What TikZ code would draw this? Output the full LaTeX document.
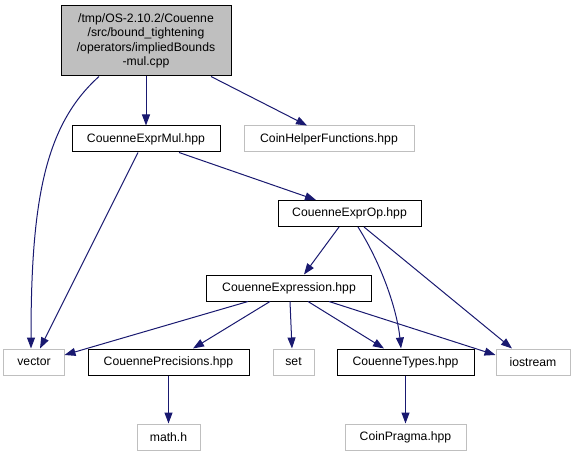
\documentclass[tikz,border=0pt]{standalone}
\usepackage{fontspec}
\setmainfont{Liberation Sans}
\usetikzlibrary{arrows.meta}
\definecolor{edgeblue}{HTML}{191970}
\definecolor{grayfill}{HTML}{BFBFBF}
\definecolor{grayline}{HTML}{BFBFBF}
\tikzset{
  nbox/.style={draw=black, line width=1bp, fill=white, minimum height=26bp, inner sep=0pt, font=\fontsize{12.2bp}{14bp}\selectfont},
  gbox/.style={nbox, draw=grayline},
  mainbox/.style={nbox, fill=grayfill, minimum height=70bp, align=center, font=\fontsize{12.2bp}{14.5bp}\selectfont},
  edge/.style={draw=edgeblue, line width=1bp, -{Triangle[length=11bp,width=8bp]}, fill=none},
}
\begin{document}
\begin{tikzpicture}[x=1bp,y=-1bp]
\useasboundingbox (0,0) rectangle (573,456);
\node[mainbox, minimum width=170bp] (main) at (146,41) {/tmp/OS-2.10.2/Couenne\\/src/bound\_tightening\\/operators/impliedBounds\\-mul.cpp};
\node[nbox, minimum width=148bp] (mul) at (146,139) {CouenneExprMul.hpp};
\node[gbox, minimum width=170bp] (helper) at (329,139) {CoinHelperFunctions.hpp};
\node[nbox, minimum width=143bp] (op) at (349.5,213.5) {CouenneExprOp.hpp};
\node[nbox, minimum width=165bp] (expr) at (289,288) {CouenneExpression.hpp};
\node[gbox, minimum width=60bp] (vector) at (34,362) {vector};
\node[nbox, minimum width=161bp] (prec) at (168.5,362) {CouennePrecisions.hpp};
\node[gbox, minimum width=41bp] (set) at (293.5,362) {set};
\node[nbox, minimum width=137bp] (types) at (405.5,362) {CouenneTypes.hpp};
\node[gbox, minimum width=74bp] (iostream) at (533,362) {iostream};
\node[gbox, minimum width=63bp] (math) at (168.5,437) {math.h};
\node[gbox, minimum width=121bp] (pragma) at (405.5,437) {CoinPragma.hpp};

\draw[edge] ([xshift=-47bp]main.south) .. controls (45,125) and (31,200) .. ([xshift=-3bp]vector.north);
\draw[edge] (main.south) -- (mul.north);
\draw[edge] ([xshift=65bp]main.south) -- ([xshift=-22bp]helper.north);
\draw[edge] ([xshift=-8bp]mul.south) -- ([xshift=6bp]vector.north);
\draw[edge] ([xshift=33bp]mul.south) -- ([xshift=-33.5bp]op.north);
\draw[edge] ([xshift=-10.5bp]op.south) -- ([xshift=15bp]expr.north);
\draw[edge] ([xshift=8.5bp]op.south) .. controls (382,265) and (397,310) .. ([xshift=-4.5bp]types.north);
\draw[edge] ([xshift=14.5bp]op.south) -- ([xshift=-21bp]iostream.north);
\draw[edge] ([xshift=-41bp]expr.south) -- ([yshift=7bp]vector.east);
\draw[edge] ([xshift=-19bp]expr.south) -- ([xshift=24.5bp]prec.north);
\draw[edge] ([xshift=1bp]expr.south) -- ([xshift=-1.5bp]set.north);
\draw[edge] ([xshift=19bp]expr.south) -- ([xshift=-21.5bp]types.north);
\draw[edge] ([xshift=40bp]expr.south) -- ([yshift=7bp]iostream.west);
\draw[edge] (prec.south) -- (math.north);
\draw[edge] (types.south) -- (pragma.north);
\end{tikzpicture}
\end{document}
